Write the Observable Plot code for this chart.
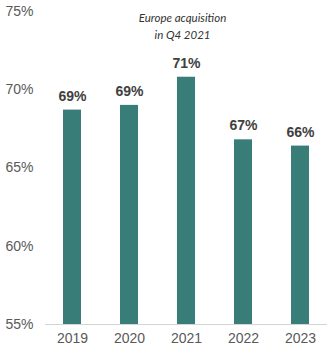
<!DOCTYPE html>
<html>
<head>
<meta charset="utf-8">
<script src="https://cdn.jsdelivr.net/npm/d3@7"></script>
<script src="https://cdn.jsdelivr.net/npm/@observablehq/plot@0.6"></script>
<style>
  html, body { margin: 0; padding: 0; background: #fff; }
</style>
</head>
<body>
<div id="chart"></div>
<script>
const years = ["2019", "2020", "2021", "2022", "2023"];
const values = [68.7, 69.0, 70.8, 66.8, 66.4];
const labels = ["69%", "69%", "71%", "67%", "66%"];
const yTicks = [55, 60, 65, 70, 75];
const note = "Europe acquisition\nin Q4 2021";
const noteYear = "2021";

const data = years.map((y, i) => ({year: y, value: values[i], label: labels[i]}));

const chart = Plot.plot({
  width: 327,
  height: 350,
  marginLeft: 45,
  marginRight: 0,
  marginTop: 11,
  marginBottom: 26,
  style: {fontFamily: "Liberation Sans, Arial, sans-serif", background: "#fff"},
  x: {domain: years, paddingInner: 0.68, paddingOuter: 0.31, label: null},
  y: {domain: [55, 75], label: null},
  marks: [
    Plot.axisY({ticks: yTicks, tickFormat: d => d + "%", tickSize: 0, tickPadding: 12, fontSize: 14, fill: "#595959"}),
    Plot.axisX({tickSize: 0, tickPadding: 9, fontSize: 14, fill: "#595959"}),
    Plot.barY(data, {x: "year", y1: 55, y2: "value", fill: "#387d78"}),
    Plot.ruleY([55], {stroke: "#d4d4d4", strokeWidth: 1}),
    Plot.text(data, {x: "year", y: "value", text: "label", dy: -14, fontSize: 14, fontWeight: "bold", fill: "#404040"}),
    Plot.text([note], {x: () => noteYear, y: () => 75, text: d => d, lineAnchor: "top", dy: -2, dx: -4, fontSize: 11.5, fontStyle: "italic", lineHeight: 1.5, fill: "#333", fontFamily: "Lato, Open Sans, sans-serif"})
  ]
});
document.getElementById("chart").appendChild(chart);
</script>
</body>
</html>
